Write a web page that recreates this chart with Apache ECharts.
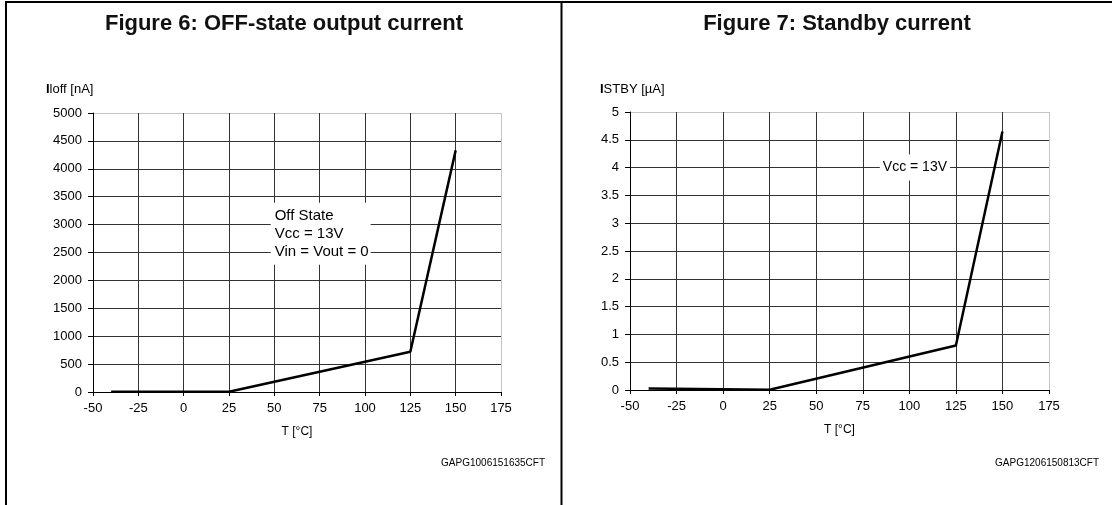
<!DOCTYPE html>
<html><head><meta charset="utf-8">
<script src="https://cdn.jsdelivr.net/npm/echarts@6/dist/echarts.min.js"></script>
<style>html,body{margin:0;padding:0;background:#fff}#c{width:1112px;height:505px}</style>
</head><body><div id="c"></div>
<script>
// ---- data ----
const offTemp = [-40, 25, 125, 150];
const offCurrent = [5, 5, 720, 4330];
const stbyTemp = [-40, 25, 125, 150];
const stbyCurrent = [0.025, 0.005, 0.8, 4.65];
const titles = ['Figure 6: OFF-state output current', 'Figure 7: Standby current'];
const yNames = ['{b|I}loff [nA]', '{b|I}STBY [µA]'];
const xName = 'T [°C]';
const codes = ['GAPG1006151635CFT', 'GAPG1206150813CFT'];
const notes = [['Off State', 'Vcc = 13V', 'Vin = Vout = 0'], ['Vcc = 13V']];
const noteAt = [[48, 2835], [103, 4]];
const xRange = [-50, 175, 25];
const yRanges = [[0, 5000, 500], [0, 5, 0.5]];

// ---- layout ----
const FONT = "'Liberation Sans', Arial, sans-serif";
const grids = [
  { left: 93, top: 113, width: 408, height: 279 },
  { left: 630, top: 112, width: 419, height: 278 }
];
function colors(n) { const a = []; for (let i = 0; i < n; i++) a.push(i === n - 1 ? '#c4c4c4' : '#333333'); return a; }
const nx = Math.round((xRange[1] - xRange[0]) / xRange[2]) + 1;

const chart = echarts.init(document.getElementById('c'), null, { renderer: 'canvas' });
const xAxis = [0, 1].map(i => ({
  type: 'value', gridIndex: i, min: xRange[0], max: xRange[1], interval: xRange[2],
  name: xName, nameLocation: 'middle', nameGap: 34,
  nameTextStyle: { fontFamily: FONT, fontSize: 12, color: '#000' },
  axisLine: { show: true, onZero: false, lineStyle: { color: '#000', width: 1 } },
  axisTick: { show: true, length: 4, lineStyle: { color: '#000' } },
  axisLabel: { fontFamily: FONT, fontSize: 13, color: '#000', margin: 10, formatter: v => String(v) },
  splitLine: { show: true, lineStyle: { color: colors(nx), width: 1 } }
}));
const yAxis = [0, 1].map(i => {
  const r = yRanges[i];
  const n = Math.round((r[1] - r[0]) / r[2]) + 1;
  return {
    type: 'value', gridIndex: i, min: r[0], max: r[1], interval: r[2],
    axisLine: { show: true, onZero: false, lineStyle: { color: '#000', width: 1 } },
    axisTick: { show: true, length: 5, lineStyle: { color: '#000' } },
    axisLabel: { fontFamily: FONT, fontSize: 13, color: '#000', margin: 11, formatter: v => String(v) },
    splitLine: { show: true, lineStyle: { color: colors(n), width: 1 } }
  };
});
const mkSeries = (i, xs, ys) => ({
  type: 'line', xAxisIndex: i, yAxisIndex: i, showSymbol: false, symbol: 'none',
  animation: false, silent: true,
  lineStyle: { color: '#000', width: 2.5 },
  data: xs.map((x, k) => [x, ys[k]])
});

chart.setOption({
  animation: false,
  backgroundColor: '#fff',
  grid: grids.map(g => Object.assign({ show: false }, g)),
  xAxis, yAxis,
  series: [mkSeries(0, offTemp, offCurrent), mkSeries(1, stbyTemp, stbyCurrent)]
});

// ---- texts and frame ----
const g = [];
g.push({ type: 'line', shape: { x1: 6, y1: 2, x2: 1112, y2: 2 }, style: { stroke: '#000', lineWidth: 2 } });
g.push({ type: 'line', shape: { x1: 6, y1: 1, x2: 6, y2: 505 }, style: { stroke: '#000', lineWidth: 2 } });
g.push({ type: 'line', shape: { x1: 561.5, y1: 1, x2: 561.5, y2: 505 }, style: { stroke: '#000', lineWidth: 2 } });
const titleX = [284, 837];
const yNameX = [46, 600];
const codeX = [545, 1099];
for (let i = 0; i < 2; i++) {
  g.push({ type: 'text', x: titleX[i], y: 24, style: { text: titles[i], font: 'bold 22px ' + FONT, fill: '#111', align: 'center', verticalAlign: 'middle' } });
  g.push({ type: 'text', x: yNameX[i], y: 89, style: { text: yNames[i], font: '13px ' + FONT, fill: '#000', align: 'left', verticalAlign: 'middle',
    rich: { b: { fontWeight: 'bold', fontSize: 13, fontFamily: FONT, fill: '#000' } } } });
  g.push({ type: 'text', x: codeX[i], y: 463, style: { text: codes[i], font: '10px ' + FONT, fill: '#000', align: 'right', verticalAlign: 'middle' } });
}
const p0 = chart.convertToPixel({ gridIndex: 0 }, noteAt[0]);
g.push({ type: 'text', x: p0[0], y: p0[1], z: 100, style: {
  text: notes[0].join('\n'), font: '15px ' + FONT, fill: '#000', align: 'left', verticalAlign: 'middle',
  lineHeight: 18, backgroundColor: '#fff', padding: [4, 2, 4, 4] } });
const p1 = chart.convertToPixel({ gridIndex: 1 }, noteAt[1]);
g.push({ type: 'text', x: p1[0], y: p1[1], z: 100, style: {
  text: notes[1].join('\n'), font: '14px ' + FONT, fill: '#000', align: 'center', verticalAlign: 'middle',
  backgroundColor: '#fff', padding: [6, 3, 6, 3] } });
chart.setOption({ graphic: g });
</script>
</body></html>
